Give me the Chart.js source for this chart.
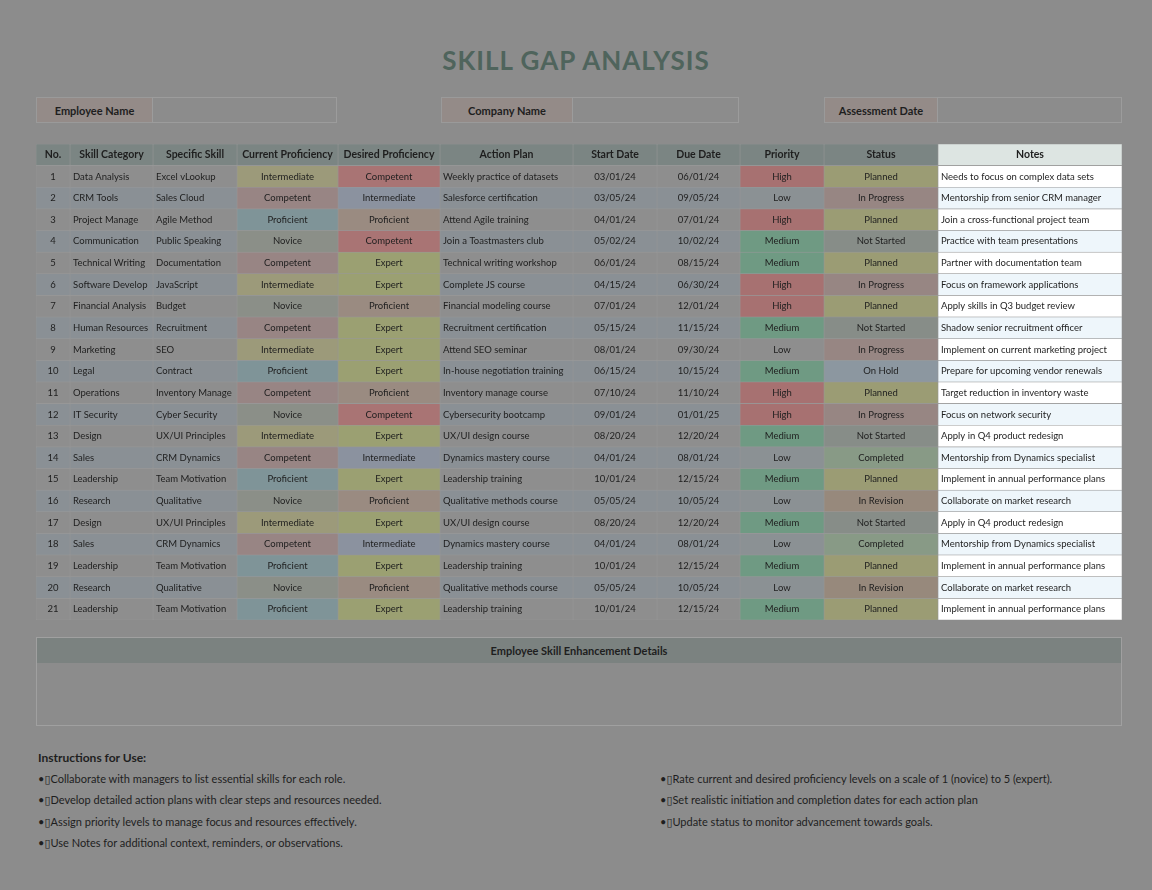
<!DOCTYPE html>
<html>
<head>
<meta charset="utf-8">
<script src="https://cdn.jsdelivr.net/npm/chart.js@4.4.1/dist/chart.umd.min.js"></script>
<style>
  body { margin: 0; background: #8c8c8c; font-family: "Lato", "DejaVu Sans", sans-serif; color: #1e1e1e; width: 1152px; height: 890px; position: relative; overflow: hidden; }
  .abs { position: absolute; box-sizing: border-box; }
  h1 { position: absolute; top: 44px; left: 0; width: 1152px; margin: 0; text-align: center; font-size: 26px; letter-spacing: 1px; color: #4f645c; font-weight: 700; }
  .lbl { background: #948b88; font-weight: 700; font-size: 11px; text-align: center; line-height: 25px; border: 1px solid #9a9a9a; }
  .val { border: 1px solid #9c9c9c; }
  #tableWrap { left: 36px; top: 144px; width: 1086px; height: 476px; }
  .enh { left: 36px; top: 637px; width: 1086px; height: 89px; border: 1px solid #a0a0a0; }
  .enh div { background: #7b8280; height: 25px; line-height: 25px; text-align: center; font-weight: 700; font-size: 11px; }
  .ins { font-size: 11px; }
</style>
</head>
<body>
<h1>SKILL GAP ANALYSIS</h1>
<div class="abs lbl" style="left:36px;top:97px;width:117px;height:26px">Employee Name</div>
<div class="abs val" style="left:152px;top:97px;width:185px;height:26px"></div>
<div class="abs lbl" style="left:441px;top:97px;width:132px;height:26px">Company Name</div>
<div class="abs val" style="left:572px;top:97px;width:167px;height:26px"></div>
<div class="abs lbl" style="left:824px;top:97px;width:114px;height:26px">Assessment Date</div>
<div class="abs val" style="left:937px;top:97px;width:185px;height:26px"></div>

<div class="abs" id="tableWrap"><canvas id="skillTable"></canvas></div>

<div class="abs enh"><div>Employee Skill Enhancement Details</div></div>

<div class="abs" style="left:38px;top:750px;font-weight:700;font-size:12px">Instructions for Use:</div>
<div class="abs ins" style="left:38px;top:772px">•&#x25AF;Collaborate with managers to list essential skills for each role.</div>
<div class="abs ins" style="left:38px;top:793px">•&#x25AF;Develop detailed action plans with clear steps and resources needed.</div>
<div class="abs ins" style="left:38px;top:815px">•&#x25AF;Assign priority levels to manage focus and resources effectively.</div>
<div class="abs ins" style="left:38px;top:836px">•&#x25AF;Use Notes for additional context, reminders, or observations.</div>
<div class="abs ins" style="left:660px;top:772px">•&#x25AF;Rate current and desired proficiency levels on a scale of 1 (novice) to 5 (expert).</div>
<div class="abs ins" style="left:660px;top:793px">•&#x25AF;Set realistic initiation and completion dates for each action plan</div>
<div class="abs ins" style="left:660px;top:815px">•&#x25AF;Update status to monitor advancement towards goals.</div>

<script>
const headers = ['No.', 'Skill Category', 'Specific Skill', 'Current Proficiency', 'Desired Proficiency', 'Action Plan', 'Start Date', 'Due Date', 'Priority', 'Status', 'Notes'];
const categories = ['Data Analysis', 'CRM Tools', 'Project Manage', 'Communication', 'Technical Writing', 'Software Develop', 'Financial Analysis', 'Human Resources', 'Marketing', 'Legal', 'Operations', 'IT Security', 'Design', 'Sales', 'Leadership', 'Research', 'Design', 'Sales', 'Leadership', 'Research', 'Leadership'];
const skills = ['Excel vLookup', 'Sales Cloud', 'Agile Method', 'Public Speaking', 'Documentation', 'JavaScript', 'Budget', 'Recruitment', 'SEO', 'Contract', 'Inventory Manage', 'Cyber Security', 'UX/UI Principles', 'CRM Dynamics', 'Team Motivation', 'Qualitative', 'UX/UI Principles', 'CRM Dynamics', 'Team Motivation', 'Qualitative', 'Team Motivation'];
const currentLevels = ['Intermediate', 'Competent', 'Proficient', 'Novice', 'Competent', 'Intermediate', 'Novice', 'Competent', 'Intermediate', 'Proficient', 'Competent', 'Novice', 'Intermediate', 'Competent', 'Proficient', 'Novice', 'Intermediate', 'Competent', 'Proficient', 'Novice', 'Proficient'];
const desiredLevels = ['Competent', 'Intermediate', 'Proficient', 'Competent', 'Expert', 'Expert', 'Proficient', 'Expert', 'Expert', 'Expert', 'Proficient', 'Competent', 'Expert', 'Intermediate', 'Expert', 'Proficient', 'Expert', 'Intermediate', 'Expert', 'Proficient', 'Expert'];
const actionPlans = ['Weekly practice of datasets', 'Salesforce certification', 'Attend Agile training', 'Join a Toastmasters club', 'Technical writing workshop', 'Complete JS course', 'Financial modeling course', 'Recruitment certification', 'Attend SEO seminar', 'In-house negotiation training', 'Inventory manage course', 'Cybersecurity bootcamp', 'UX/UI design course', 'Dynamics mastery course', 'Leadership training', 'Qualitative methods course', 'UX/UI design course', 'Dynamics mastery course', 'Leadership training', 'Qualitative methods course', 'Leadership training'];
const startDates = ['03/01/24', '03/05/24', '04/01/24', '05/02/24', '06/01/24', '04/15/24', '07/01/24', '05/15/24', '08/01/24', '06/15/24', '07/10/24', '09/01/24', '08/20/24', '04/01/24', '10/01/24', '05/05/24', '08/20/24', '04/01/24', '10/01/24', '05/05/24', '10/01/24'];
const dueDates = ['06/01/24', '09/05/24', '07/01/24', '10/02/24', '08/15/24', '06/30/24', '12/01/24', '11/15/24', '09/30/24', '10/15/24', '11/10/24', '01/01/25', '12/20/24', '08/01/24', '12/15/24', '10/05/24', '12/20/24', '08/01/24', '12/15/24', '10/05/24', '12/15/24'];
const priorities = ['High', 'Low', 'High', 'Medium', 'Medium', 'High', 'High', 'Medium', 'Low', 'Medium', 'High', 'High', 'Medium', 'Low', 'Medium', 'Low', 'Medium', 'Low', 'Medium', 'Low', 'Medium'];
const statuses = ['Planned', 'In Progress', 'Planned', 'Not Started', 'Planned', 'In Progress', 'Planned', 'Not Started', 'In Progress', 'On Hold', 'Planned', 'In Progress', 'Not Started', 'Completed', 'Planned', 'In Revision', 'Not Started', 'Completed', 'Planned', 'In Revision', 'Planned'];
const notes = ['Needs to focus on complex data sets', 'Mentorship from senior CRM manager', 'Join a cross-functional project team', 'Practice with team presentations', 'Partner with documentation team', 'Focus on framework applications', 'Apply skills in Q3 budget review', 'Shadow senior recruitment officer', 'Implement on current marketing project', 'Prepare for upcoming vendor renewals', 'Target reduction in inventory waste', 'Focus on network security', 'Apply in Q4 product redesign', 'Mentorship from Dynamics specialist', 'Implement in annual performance plans', 'Collaborate on market research', 'Apply in Q4 product redesign', 'Mentorship from Dynamics specialist', 'Implement in annual performance plans', 'Collaborate on market research', 'Implement in annual performance plans'];

// column edges in table units
const colEdges = [0, 34, 117, 201, 302, 404, 537, 621, 704, 788, 902, 1086];
const leftCols = [1, 2, 5, 10];

const currentColors = { Intermediate: '#9c9a7a', Competent: '#988584', Proficient: '#7f9498', Novice: '#8b8f88' };
const desiredColors = { Competent: '#a97474', Intermediate: '#8b929f', Proficient: '#9a8b81', Expert: '#9ba072' };
const priorityColors = { High: '#a77171', Low: '#8e8e8e', Medium: '#6f9a83' };
const statusColors = { 'Planned': '#9b9c74', 'In Progress': '#978683', 'Not Started': '#878d88', 'On Hold': '#8c97a0', 'Completed': '#889a86', 'In Revision': '#97897c' };

const rows = categories.map((c, i) => [String(i + 1), c, skills[i], currentLevels[i], desiredLevels[i], actionPlans[i], startDates[i], dueDates[i], priorities[i], statuses[i], notes[i]]);
const allRows = [headers, ...rows];

function cellColor(r, c) {
    if (r === 0) return c === 10 ? '#dde5e2' : '#7b8583';
    const i = r - 1, even = i % 2 === 1;
    if (c === 3) return currentColors[currentLevels[i]];
    if (c === 4) return desiredColors[desiredLevels[i]];
    if (c === 8) return priorities[i] === 'Low' ? (even ? '#8b9194' : '#8e8e8e') : priorityColors[priorities[i]];
    if (c === 9) return statusColors[statuses[i]];
    if (c === 10) return even ? '#eef6fb' : '#ffffff';
    return even ? '#8a9095' : '#8e8e8e';
}

const datasets = headers.map((h, c) => ({
    label: h,
    data: allRows.map(() => [colEdges[c], colEdges[c + 1]]),
    backgroundColor: allRows.map((_, r) => cellColor(r, c)),
    borderColor: '#999999',
    borderWidth: 0.6,
    borderSkipped: false,
    grouped: false,
    barPercentage: 1,
    categoryPercentage: 1
}));

const cellText = {
    id: 'cellText',
    afterDatasetsDraw(chart) {
        const ctx = chart.ctx;
        ctx.save();
        ctx.textBaseline = 'middle';
        chart.data.datasets.forEach((ds, c) => {
            chart.getDatasetMeta(c).data.forEach((bar, r) => {
                const txt = allRows[r][c];
                const x0 = Math.min(bar.x, bar.base), x1 = Math.max(bar.x, bar.base);
                ctx.fillStyle = '#1e1e1e';
                if (r === 0) {
                    ctx.font = 'bold 10.5px Lato, "DejaVu Sans", sans-serif';
                    ctx.textAlign = 'center';
                    ctx.fillText(txt, (x0 + x1) / 2, bar.y);
                } else {
                    ctx.font = '9.5px Lato, "DejaVu Sans", sans-serif';
                    if (leftCols.includes(c)) {
                        ctx.textAlign = 'left';
                        ctx.fillText(txt, x0 + 3, bar.y);
                    } else {
                        ctx.textAlign = 'center';
                        ctx.fillText(txt, (x0 + x1) / 2, bar.y);
                    }
                }
            });
        });
        ctx.restore();
    }
};

new Chart(document.getElementById('skillTable'), {
    type: 'bar',
    data: { labels: allRows.map((r, i) => 'row' + i), datasets },
    options: {
        indexAxis: 'y',
        responsive: true,
        maintainAspectRatio: false,
        animation: false,
        layout: { padding: 0 },
        plugins: { legend: { display: false }, tooltip: { enabled: false } },
        scales: {
            x: { type: 'linear', min: 0, max: 1086, display: false },
            y: { display: false, offset: true }
        }
    },
    plugins: [cellText]
});
</script>
</body>
</html>
